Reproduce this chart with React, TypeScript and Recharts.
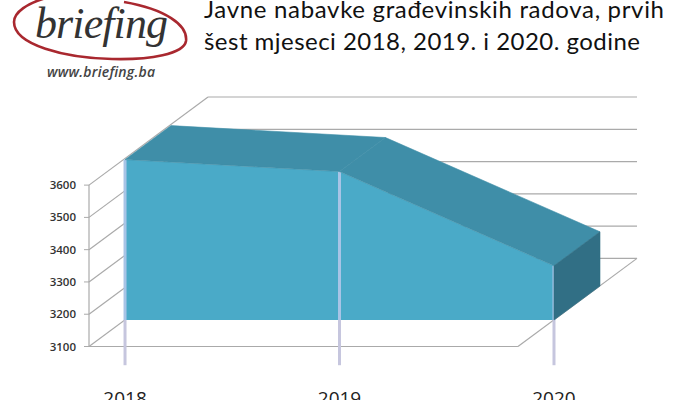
import { Area, ComposedChart, ReferenceLine, XAxis, YAxis } from 'recharts';

const YEARS = [2018, 2019, 2020];
const TENDERS = [3597, 3560, 3268];
const Y_TICKS = [3100, 3200, 3300, 3400, 3500, 3600];

const TITLE_LINES = ['Javne nabavke građevinskih radova, prvih', 'šest mjeseci 2018, 2019. i 2020. godine'];

const data = YEARS.map((year, i) => ({ year, value: TENDERS[i] }));

const FIRST = YEARS[0];
const LAST = YEARS[YEARS.length - 1];
const FLOOR = Y_TICKS[0];
const ROOF = Y_TICKS[Y_TICKS.length - 1];

// oblique 3d box, in data units
const WALL_X = 0.555;
const WALL_Y = 273;
// the area sits a little way into the box
const PLANE_X = 0.168;
const PLANE_Y = 82;
// thickness of the area, in pixels
const DEPTH_X = 46;
const DEPTH_Y = 34;
// how far the year ticks hang below the area
const TICK_BOTTOM = 2960;

const PLOT_HEIGHT = 249.5;
const PX_PER_UNIT = PLOT_HEIGHT / (ROOF + WALL_Y - FLOOR);

const FRONT = '#4aaac8';
const TOP = '#3f8ea8';
const SIDE = '#316f85';
const GRID = '#aaaaaa';
const DROP = '#c6c6de';
const DROP_ON_AREA = '#a8c4e6';

type Pt = { x: number; y: number };

function ExtrudedDot(props: any) {
  const { index, points } = props;
  const p: Pt = points[index];
  const next: Pt | undefined = points[index + 1];
  const base = p.y + (TENDERS[index] - FLOOR) * PX_PER_UNIT;
  const poly = next
    ? [
        [p.x, p.y],
        [next.x, next.y],
        [next.x + DEPTH_X, next.y - DEPTH_Y],
        [p.x + DEPTH_X, p.y - DEPTH_Y],
      ]
    : [
        [p.x, p.y],
        [p.x + DEPTH_X, p.y - DEPTH_Y],
        [p.x + DEPTH_X, base - DEPTH_Y],
        [p.x, base],
      ];
  return <polygon key={index} points={poly.map((c) => c.join(',')).join(' ')} fill={next ? TOP : SIDE} stroke={next ? TOP : SIDE} strokeWidth={0.6} />;
}

function wallLine(a: [number, number], b: [number, number], key: string) {
  return (
    <ReferenceLine
      key={key}
      xAxisId="box"
      yAxisId="box"
      segment={[
        { x: a[0], y: a[1] },
        { x: b[0], y: b[1] },
      ]}
      stroke={GRID}
      strokeWidth={1.2}
      ifOverflow="visible"
      zIndex={-50}
    />
  );
}

function dropLine(year: number, from: number, to: number, color: string) {
  return (
    <ReferenceLine
      key={`${year}-${from}`}
      xAxisId="plane"
      yAxisId="plane"
      segment={[
        { x: year, y: from },
        { x: year, y: to },
      ]}
      stroke={color}
      strokeWidth={3}
      ifOverflow="visible"
    />
  );
}

function Logo() {
  return (
    <svg width={700} height={100} style={{ position: 'absolute', left: 0, top: 0 }}>
      <path
        d="M124 2 C165 9 188 25 186 41 C184 54 150 60 112 59 C65 58 14 45 14 22 C14 12 28 3 46 -2"
        fill="none"
        stroke="#a9282f"
        strokeWidth={2.6}
      />
      <text x={35} y={38} fontFamily="Liberation Serif" fontStyle="italic" fontSize={44} fill="#333333" textLength={133}>
        briefing
      </text>
      <text x={47} y={77} fontFamily="Open Sans" fontStyle="italic" fontWeight={600} fontSize={14} fill="#444444" textLength={108}>
        www.briefing.ba
      </text>
      {TITLE_LINES.map((line, i) => (
        <text key={line} x={204} y={18 + i * 32} fontFamily="Lato" fontSize={24} fill="#111111" textLength={i === 0 ? 460 : 436}>
          {line}
        </text>
      ))}
    </svg>
  );
}

export default function App() {
  return (
    <div style={{ position: 'absolute', left: 0, top: 0, width: 700, height: 400, background: '#fff', overflow: 'hidden' }}>
      <ComposedChart width={700} height={400} data={data} margin={{ top: 97, right: 63, bottom: 23.5, left: 49 }}>
        <XAxis xAxisId="box" type="number" dataKey="year" domain={[FIRST, LAST + WALL_X]} hide />
        <YAxis
          yAxisId="box"
          type="number"
          domain={[FLOOR, ROOF + WALL_Y]}
          ticks={Y_TICKS}
          width={40}
          interval={0}
          axisLine={false}
          tickLine={{ stroke: GRID }}
          tickSize={5}
          tickMargin={8}
          tick={{ fontSize: 11.5, fontWeight: 600, fill: '#333333', fontFamily: 'Open Sans' }}
        />
        <XAxis
          xAxisId="plane"
          type="number"
          dataKey="year"
          domain={[FIRST - PLANE_X, LAST + WALL_X - PLANE_X]}
          ticks={YEARS}
          interval={0}
          height={30}
          axisLine={false}
          tickLine={false}
          tickMargin={9}
          tickFormatter={(v) => String(v)}
          tick={{ fontSize: 19, fill: '#222222', fontFamily: 'Open Sans' }}
        />
        <YAxis yAxisId="plane" type="number" domain={[FLOOR - PLANE_Y, ROOF + WALL_Y - PLANE_Y]} hide />

        <Area xAxisId="box" yAxisId="box" dataKey="value" fill="none" stroke="none" isAnimationActive={false} activeDot={false} />

        {Y_TICKS.map((t) => wallLine([FIRST + WALL_X, t + WALL_Y], [LAST + WALL_X, t + WALL_Y], `back-${t}`))}
        {Y_TICKS.map((t) => wallLine([FIRST, t], [FIRST + WALL_X, t + WALL_Y], `side-${t}`))}
        {wallLine([FIRST, FLOOR], [LAST, FLOOR], 'floor-front')}
        {wallLine([LAST, FLOOR], [LAST + WALL_X, FLOOR + WALL_Y], 'floor-right')}
        {wallLine([FIRST, FLOOR], [FIRST, ROOF], 'axis')}

        <Area
          xAxisId="plane"
          yAxisId="plane"
          type="linear"
          dataKey="value"
          baseValue={FLOOR}
          fill={FRONT}
          fillOpacity={1}
          stroke="none"
          dot={ExtrudedDot}
          activeDot={false}
          isAnimationActive={false}
        />

        {YEARS.map((year, i) => dropLine(year, TENDERS[i], FLOOR, DROP_ON_AREA))}
        {YEARS.map((year) => dropLine(year, FLOOR, TICK_BOTTOM, DROP))}
      </ComposedChart>
      <Logo />
    </div>
  );
}
